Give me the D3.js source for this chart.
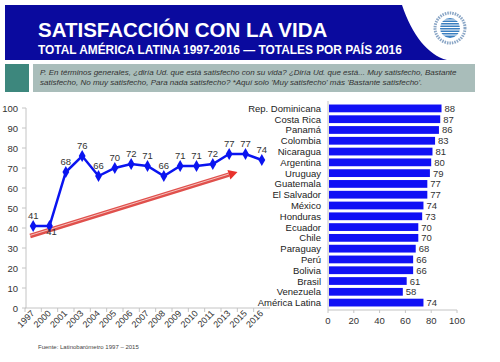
<!DOCTYPE html>
<html>
<head>
<meta charset="utf-8">
<script src="https://cdn.jsdelivr.net/npm/d3@7"></script>
<style>
  body { margin: 0; background: #fff; }
  svg { display: block; font-family: "Liberation Sans", Arial, sans-serif; }
</style>
</head>
<body>
<svg></svg>
<script>
// time series for total Latin America
var years = ['1997','2000','2001','2003','2004','2005','2006','2007','2008','2009','2010','2011','2013','2015','2016'];
var totals = [41, 41, 68, 76, 66, 70, 72, 71, 66, 71, 71, 72, 77, 77, 74];

// country totals 2016
var countries = ['Rep. Dominicana','Costa Rica','Panamá','Colombia','Nicaragua','Argentina','Uruguay','Guatemala','El Salvador','México','Honduras','Ecuador','Chile','Paraguay','Perú','Bolivia','Brasil','Venezuela','América Latina'];
var countryValues = [88, 87, 86, 83, 81, 80, 79, 77, 77, 74, 73, 70, 70, 68, 66, 66, 61, 58, 74];

var yTicks = [0,10,20,30,40,50,60,70,80,90,100];
var barTicks = [0,20,40,60,80,100];

var svgWidth = 500, svgHeight = 362;
var svg = d3.select('svg').attr('width', svgWidth).attr('height', svgHeight);

// ---- header ----
svg.append('path')
    .attr('d', 'M5,5 L402,5 C412,35 428,55 447,60 L5,60 Z')
    .attr('fill', '#0a0a9e');
svg.append('text').attr('x', 38).attr('y', 37)
    .attr('fill', '#fff').attr('font-size', 20.5).attr('font-weight', 'bold')
    .text('SATISFACCIÓN CON LA VIDA');
svg.append('text').attr('x', 38).attr('y', 54)
    .attr('fill', '#fff').attr('font-size', 11.9).attr('font-weight', 'bold')
    .text('TOTAL AMÉRICA LATINA 1997-2016 — TOTALES POR PAÍS 2016');

// logo (simple)
var logo = svg.append('g').attr('transform', 'translate(450,28)');
logo.append('circle').attr('r', 15).attr('fill', 'none').attr('stroke', '#8aa6c6').attr('stroke-width', 3).attr('stroke-dasharray', '1.5,1');
logo.append('circle').attr('r', 10).attr('fill', '#3a7fc0');
for (var k = -8; k <= 8; k += 2.5) {
  logo.append('line').attr('x1', -10).attr('x2', 10).attr('y1', k).attr('y2', k)
      .attr('stroke', '#fff').attr('stroke-width', 1);
}

// question box
svg.append('rect').attr('x', 5).attr('y', 64).attr('width', 24).attr('height', 28).attr('fill', '#3d877d');
svg.append('rect').attr('x', 33).attr('y', 64).attr('width', 442).attr('height', 28).attr('fill', '#a9bdba');
svg.append('text').attr('x', 40).attr('y', 75).attr('font-size', 8).attr('font-style', 'italic').attr('fill', '#333')
    .text('P. En términos generales, ¿diría Ud. que está  satisfecho con su vida? ¿Diría Ud. que está... Muy satisfecho, Bastante');
svg.append('text').attr('x', 40).attr('y', 85).attr('font-size', 8).attr('font-style', 'italic').attr('fill', '#333')
    .text('satisfecho, No muy satisfecho, Para nada satisfecho? *Aquí solo \'Muy satisfecho\' más \'Bastante satisfecho\'.');

// ---- line chart ----
var x = d3.scaleBand().domain(years).range([25, 270]);
var y = d3.scaleLinear().domain([0, 100]).range([308, 108]);
var cx = function(d) { return x(d) + x.bandwidth() / 2; };

var axisColor = '#c4c4c4';
svg.append('line').attr('x1', 26).attr('x2', 26).attr('y1', 108).attr('y2', 308).attr('stroke', axisColor);
svg.append('line').attr('x1', 25).attr('x2', 270).attr('y1', 308).attr('y2', 308).attr('stroke', axisColor);

svg.selectAll('.ytick').data(yTicks).enter().append('line')
    .attr('x1', 22).attr('x2', 26)
    .attr('y1', function(d) { return y(d); }).attr('y2', function(d) { return y(d); })
    .attr('stroke', axisColor);
svg.selectAll('.ylab').data(yTicks).enter().append('text')
    .attr('x', 18).attr('y', function(d) { return y(d) + 3.5; })
    .attr('text-anchor', 'end').attr('font-size', 9.5).attr('fill', '#333')
    .text(function(d) { return d; });

svg.selectAll('.xtick').data(years).enter().append('line')
    .attr('x1', function(d) { return x(d); }).attr('x2', function(d) { return x(d); })
    .attr('y1', 308).attr('y2', 312).attr('stroke', axisColor);
svg.selectAll('.xlab').data(years).enter().append('text')
    .attr('transform', function(d) { return 'translate(' + (cx(d) + 2) + ',314) rotate(-45)'; })
    .attr('text-anchor', 'end').attr('font-size', 9).attr('fill', '#333')
    .text(function(d) { return d; });

// red trend arrow
var arrowStart = [cx('1997') - 3, y(36)], arrowEnd = [cx('2015') - 8, y(68)];
var ang = Math.atan2(arrowEnd[1] - arrowStart[1], arrowEnd[0] - arrowStart[0]);
var shaftEnd = [arrowEnd[0] - 9 * Math.cos(ang), arrowEnd[1] - 9 * Math.sin(ang)];
svg.append('line')
    .attr('x1', arrowStart[0]).attr('y1', arrowStart[1]).attr('x2', shaftEnd[0]).attr('y2', shaftEnd[1])
    .attr('stroke', '#e0504c').attr('stroke-width', 4.5);
svg.append('line')
    .attr('x1', arrowStart[0]).attr('y1', arrowStart[1] - 0.6).attr('x2', shaftEnd[0]).attr('y2', shaftEnd[1] - 0.6)
    .attr('stroke', '#f5c0bc').attr('stroke-width', 1);
var hw = 5;
var nx = -Math.sin(ang), ny = Math.cos(ang);
svg.append('path')
    .attr('d', 'M' + arrowEnd[0] + ',' + arrowEnd[1] +
      'L' + (shaftEnd[0] + nx * hw) + ',' + (shaftEnd[1] + ny * hw) +
      'L' + (shaftEnd[0] - nx * hw) + ',' + (shaftEnd[1] - ny * hw) + 'Z')
    .attr('fill', '#e8322c');

var line = d3.line()
    .x(function(d, i) { return cx(years[i]); })
    .y(function(d) { return y(d); });
svg.append('path').datum(totals)
    .attr('d', line).attr('fill', 'none').attr('stroke', '#0a14f0').attr('stroke-width', 2.5);
svg.selectAll('.pt').data(totals).enter().append('path')
    .attr('d', d3.symbol().type(d3.symbolDiamond).size(40))
    .attr('transform', function(d, i) { return 'translate(' + cx(years[i]) + ',' + y(d) + ')'; })
    .attr('fill', '#0a14f0');
svg.selectAll('.ptlab').data(totals).enter().append('text')
    .attr('x', function(d, i) { return cx(years[i]) + (i === 1 ? 2 : 0); })
    .attr('y', function(d, i) { return i === 1 ? y(d) + 9 : y(d) - 7; })
    .attr('text-anchor', 'middle').attr('font-size', 9.5).attr('fill', '#333')
    .text(function(d) { return d; });

// ---- bar chart ----
var bx = d3.scaleLinear().domain([0, 100]).range([328, 457]);
var by = d3.scaleBand().domain(countries).range([101.5, 309.5]).padding(0.28);

svg.append('line').attr('x1', 328).attr('x2', 328).attr('y1', 101).attr('y2', 310).attr('stroke', axisColor);
svg.append('line').attr('x1', 328).attr('x2', 457).attr('y1', 310).attr('y2', 310).attr('stroke', axisColor);
svg.selectAll('.btick').data(barTicks).enter().append('line')
    .attr('x1', function(d) { return bx(d); }).attr('x2', function(d) { return bx(d); })
    .attr('y1', 310).attr('y2', 313).attr('stroke', axisColor);
svg.selectAll('.blab').data(barTicks).enter().append('text')
    .attr('x', function(d) { return bx(d); }).attr('y', 324)
    .attr('text-anchor', 'middle').attr('font-size', 9.5).attr('fill', '#333')
    .text(function(d) { return d; });

svg.selectAll('.bar').data(countryValues).enter().append('rect')
    .attr('x', bx(0) + 1)
    .attr('y', function(d, i) { return by(countries[i]); })
    .attr('width', function(d) { return bx(d) - bx(0) - 1; })
    .attr('height', by.bandwidth())
    .attr('fill', '#1010f5');
svg.selectAll('.cval').data(countryValues).enter().append('text')
    .attr('x', function(d) { return bx(d) + 3; })
    .attr('y', function(d, i) { return by(countries[i]) + by.bandwidth() / 2 + 3.5; })
    .attr('font-size', 9.5).attr('fill', '#333')
    .text(function(d) { return d; });
svg.selectAll('.cname').data(countries).enter().append('text')
    .attr('x', 321)
    .attr('y', function(d) { return by(d) + by.bandwidth() / 2 + 3.5; })
    .attr('text-anchor', 'end').attr('font-size', 9.5).attr('fill', '#222')
    .text(function(d) { return d; });

// source
svg.append('text').attr('x', 38).attr('y', 349).attr('font-size', 6).attr('fill', '#444')
    .text('Fuente: Latinobarómetro 1997 – 2015');
</script>
</body>
</html>
